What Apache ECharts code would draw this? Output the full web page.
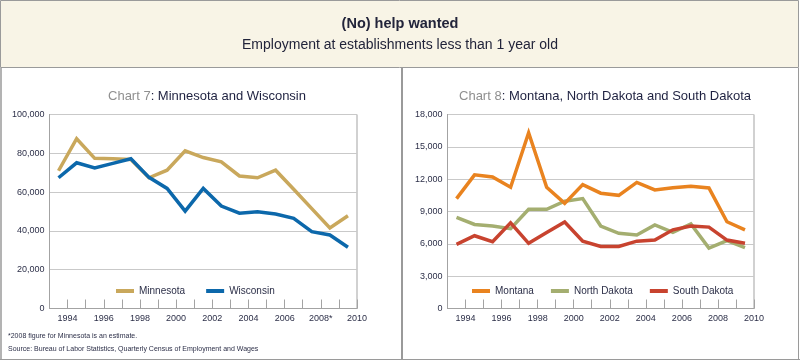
<!DOCTYPE html>
<html>
<head>
<meta charset="utf-8">
<script src="https://cdn.jsdelivr.net/npm/echarts@6/dist/echarts.min.js"></script>
<style>
html,body{margin:0;padding:0;background:#fff;}
#main{width:800px;height:363px;}
</style>
</head>
<body>
<div id="main"></div>
<script>
// ---- data ----
const years = [1993,1994,1995,1996,1997,1998,1999,2000,2001,2002,2003,2004,2005,2006,2007,2008,2009];
const minnesota = [71000,87500,77400,77200,76800,67400,71300,81300,77800,75600,68300,67400,71300,61500,51500,41500,47800];
const wisconsin = [67400,75100,72500,74800,77200,67600,61900,50200,61900,52800,49100,49900,48700,46500,39600,37900,31600];
const montana = [10200,12400,12200,11250,16300,11250,9750,11500,10700,10500,11700,11000,11200,11350,11180,8050,7300];
const northDakota = [8450,7800,7650,7400,9200,9200,9950,10200,7650,6980,6820,7750,7070,7840,5600,6300,5650];
const southDakota = [5950,6750,6200,7950,6050,7050,8030,6250,5750,5750,6250,6350,7300,7650,7550,6350,6050];
const xMin = 1993, xMax = 2010;
const leftYMax = 100000, leftYStep = 20000;
const rightYMax = 18000, rightYStep = 3000;
const estimateYear = 2008;

const FONT = 'Liberation Sans';
const TXT = '#2c2f48';
const GRAY_AX = '#a3a3a3';
const GRID_LN = '#c9c9c9';

function pts(arr){ return arr.map((v,i)=>[years[i]+0.5, v]); }
function fmtNum(v){ return v.toLocaleString('en-US'); }

function xAxis(gridIndex, star){
  return {
    type:'value', gridIndex, min:xMin, max:xMax, interval:1,
    axisLine:{show:true, lineStyle:{color:GRAY_AX, width:1}},
    axisTick:{show:true, inside:true, length:9, lineStyle:{color:GRAY_AX}},
    splitLine:{show:false},
    axisLabel:{
      margin:6, color:TXT, fontFamily:FONT, fontSize:9,
      showMinLabel:true, showMaxLabel:true,
      formatter:function(v){ if(v%2!==0) return ''; return (star && v===estimateYear) ? v+'*' : String(v); }
    }
  };
}
function yAxis(gridIndex, max, step){
  return {
    type:'value', gridIndex, min:0, max:max, interval:step,
    axisLine:{show:true, lineStyle:{color:GRAY_AX}},
    axisTick:{show:false},
    splitLine:{show:true, lineStyle:{color:GRID_LN, width:1}},
    axisLabel:{margin:5, color:TXT, fontFamily:FONT, fontSize:9, formatter:fmtNum}
  };
}
function line(name, data, color, xi, z){
  return {name, type:'line', xAxisIndex:xi, yAxisIndex:xi, data:pts(data), symbol:'none',
    lineStyle:{color, width:3.5, join:'miter'}, itemStyle:{color}, z:z||2, animation:false};
}

const chart = echarts.init(document.getElementById('main'), null, {renderer:'canvas'});
chart.setOption({
  animation:false,
  backgroundColor:'#ffffff',
  graphic:[
    {type:'rect', shape:{x:0.5,y:0.5,width:798,height:67}, style:{fill:'#f8f4e6', stroke:'#9a9a9a', lineWidth:1}, z:-10},
    {type:'line', shape:{x1:1,y1:68,x2:1,y2:359.5}, style:{stroke:'#9a9a9a', lineWidth:1.5}, z:-10},
    {type:'line', shape:{x1:0,y1:359.5,x2:800,y2:359.5}, style:{stroke:'#9a9a9a', lineWidth:1}, z:-10},
    {type:'line', shape:{x1:402,y1:68,x2:402,y2:360}, style:{stroke:'#9a9a9a', lineWidth:2}, z:-10},
    {type:'line', shape:{x1:798.5,y1:68,x2:798.5,y2:360}, style:{stroke:'#9a9a9a', lineWidth:1}, z:-10},
    {type:'text', left:8, top:333, style:{text:'*2008 figure for Minnesota is an estimate.', fill:TXT, font:'7px "Liberation Sans"'}},
    {type:'text', left:8, top:346, style:{text:'Source: Bureau of Labor Statistics, Quarterly Census of Employment and Wages', fill:TXT, font:'7px "Liberation Sans"'}}
  ],
  title:[
    {text:'(No) help wanted', left:'center', top:11, textStyle:{fontFamily:FONT, fontSize:14.5, fontWeight:'bold', color:'#22243a'}},
    {text:'Employment at establishments less than 1 year old', left:'center', top:33, textStyle:{fontFamily:FONT, fontSize:14, fontWeight:'normal', color:'#22243a'}},
    {text:'{g|Chart 7}{d|: Minnesota and Wisconsin}', left:202, textAlign:'center', top:85,
      textStyle:{fontWeight:'normal', rich:{g:{color:'#8f8f8f', fontFamily:FONT, fontSize:13, fontWeight:'normal'}, d:{color:'#1e2140', fontFamily:FONT, fontSize:13, fontWeight:'normal'}}}},
    {text:'{g|Chart 8}{d|: Montana, North Dakota and South Dakota}', left:600, textAlign:'center', top:85,
      textStyle:{fontWeight:'normal', rich:{g:{color:'#8f8f8f', fontFamily:FONT, fontSize:13, fontWeight:'normal'}, d:{color:'#1e2140', fontFamily:FONT, fontSize:13, fontWeight:'normal'}}}}
  ],
  grid:[
    {left:49.5, top:114.5, width:307.5, height:194, show:true, borderColor:GRAY_AX, borderWidth:1, backgroundColor:'transparent'},
    {left:447.5, top:114.5, width:306.5, height:194, show:true, borderColor:GRAY_AX, borderWidth:1, backgroundColor:'transparent'}
  ],
  xAxis:[xAxis(0,true), xAxis(1,false)],
  yAxis:[yAxis(0,leftYMax,leftYStep), yAxis(1,rightYMax,rightYStep)],
  legend:[
    {data:['Minnesota','Wisconsin'], left:111, top:281, icon:'rect', itemWidth:18, itemHeight:4, itemGap:21,
      textStyle:{fontFamily:FONT, fontSize:10, color:TXT}},
    {data:['Montana','North Dakota','South Dakota'], left:467, top:281, icon:'rect', itemWidth:18, itemHeight:4, itemGap:17,
      textStyle:{fontFamily:FONT, fontSize:10, color:TXT}}
  ],
  series:[
    line('Minnesota', minnesota, '#c9a85c', 0, 2),
    line('Wisconsin', wisconsin, '#0c68ab', 0, 3),
    line('North Dakota', northDakota, '#a4ae70', 1, 2),
    line('South Dakota', southDakota, '#c8432f', 1, 3),
    line('Montana', montana, '#e9831f', 1, 4)
  ]
});
</script>
</body>
</html>
